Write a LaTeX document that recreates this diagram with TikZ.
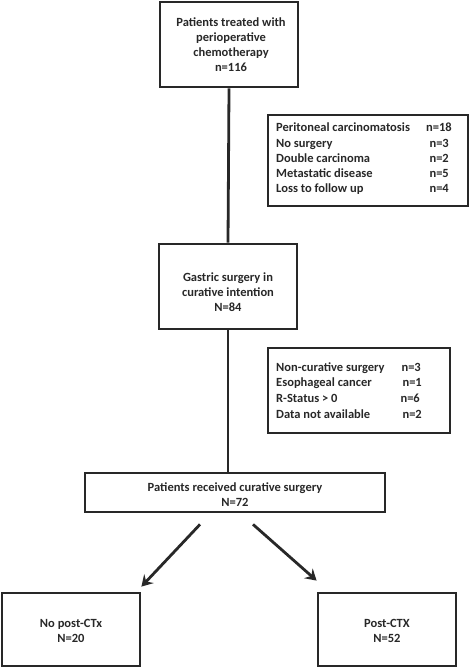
\documentclass[tikz,border=0pt]{standalone}
\usepackage{fontspec}
\setmainfont{Carlito}
\usetikzlibrary{arrows.meta}
\definecolor{ink}{RGB}{40,40,40}
\tikzset{
  box/.style={draw=ink, line width=2.8pt, inner sep=0pt, fill=white},
  txt/.style={text=ink, font=\bfseries\fontsize{12.5}{15}\selectfont, align=center, inner sep=0pt},
  ltxt/.style={text=ink, font=\bfseries\fontsize{12.5}{15}\selectfont, anchor=base west, inner sep=0pt},
  rtxt/.style={text=ink, font=\bfseries\fontsize{12.5}{15}\selectfont, anchor=base east, inner sep=0pt},
  conn/.style={draw=ink, line width=2.8pt},
  arr/.style={draw=ink, line width=2.8pt, -{Stealth[length=11pt,width=13pt,inset=4pt]}}
}
\begin{document}
\begin{tikzpicture}[x=1pt,y=-1pt]
\useasboundingbox (0,0) rectangle (472,668);
% boxes
\node[box, minimum width=138pt, minimum height=85pt] (top) at (229,44.5) {};
\node[box, minimum width=200pt, minimum height=91pt] (ex1) at (368,160.5) {};
\node[box, minimum width=138pt, minimum height=85pt] (gas) at (228,286.5) {};
\node[box, minimum width=182pt, minimum height=85pt] (ex2) at (359,390.5) {};
\node[box, minimum width=300pt, minimum height=39pt] (rec) at (235,492.5) {};
\node[box, minimum width=138pt, minimum height=73pt] (nop) at (71,629.5) {};
\node[box, minimum width=138pt, minimum height=73pt] (pos) at (387,629.5) {};
% texts
\node[txt] (toptxt) at (231,44.5) {Patients treated with\\perioperative\\chemotherapy\\n=116};
\node[txt] (gastxt) at (228,292) {Gastric surgery in\\curative intention\\N=84};
\node[txt] (rectxt) at (235,494.5) {Patients received curative surgery\\N=72};
\node[txt] (noptxt) at (71,631) {No post-CTx\\N=20};
\node[txt] (postxt) at (387,631) {Post-CTX\\N=52};
% exclusion list 1
\node[ltxt] (a1) at (276,132) {Peritoneal carcinomatosis};
\node[ltxt] (a2) at (276,147.2) {No surgery};
\node[ltxt] (a3) at (276,162.4) {Double carcinoma};
\node[ltxt] (a4) at (276,177.6) {Metastatic disease};
\node[ltxt] (a5) at (276,192.8) {Loss to follow up};
\node[rtxt] (b1) at (452,132) {n=18};
\node[rtxt] (b2) at (449,147.2) {n=3};
\node[rtxt] (b3) at (449,162.4) {n=2};
\node[rtxt] (b4) at (449,177.6) {n=5};
\node[rtxt] (b5) at (449,192.8) {n=4};
% exclusion list 2
\node[ltxt] (c1) at (276,371) {Non-curative surgery};
\node[ltxt] (c2) at (276,386.7) {Esophageal cancer};
\node[ltxt] (c3) at (276,402.4) {R-Status > 0};
\node[ltxt] (c4) at (276,418.1) {Data not available};
\node[rtxt] (d1) at (421,371) {n=3};
\node[rtxt] (d2) at (422,386.7) {n=1};
\node[rtxt] (d3) at (420,402.4) {n=6};
\node[rtxt] (d4) at (422,418.1) {n=2};
% connectors
\draw[conn] (top.south) -- (gas.north);
\draw[conn] (gas.south) -- (gas.south |- rec.north);
\draw[arr] ([xshift=-35pt,yshift=-11pt]rec.south) -- ([yshift=5pt]nop.north east);
\draw[arr] ([xshift=18pt,yshift=-11pt]rec.south) -- ([yshift=11pt]pos.north west);
\end{tikzpicture}
\end{document}
